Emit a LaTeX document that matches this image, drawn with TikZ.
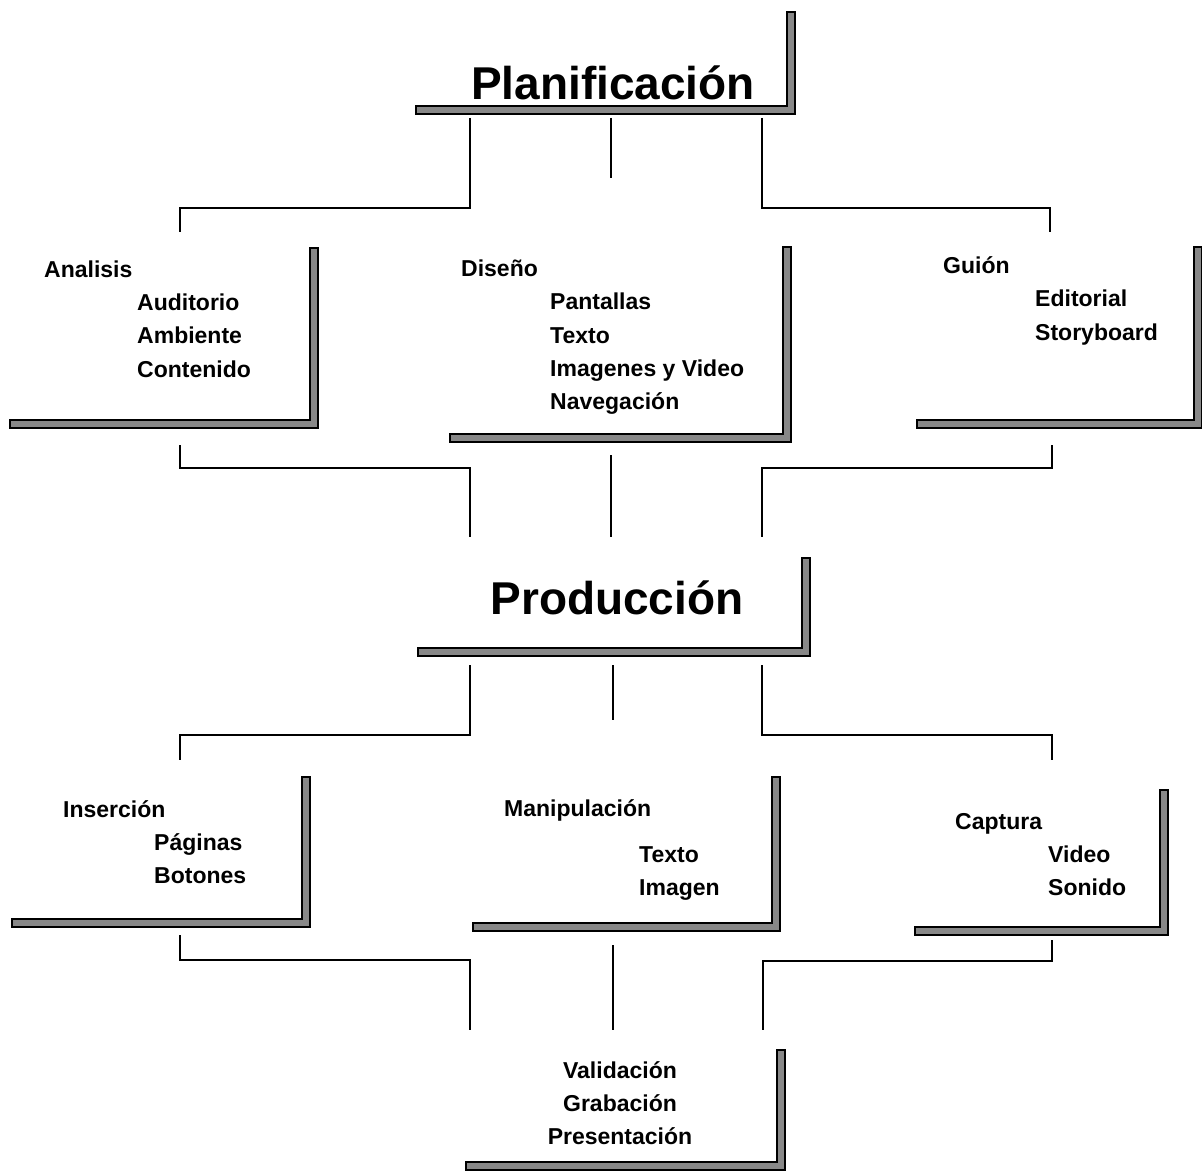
\documentclass[tikz,border=0pt]{standalone}
\usepackage{fontspec}
\setmainfont{Liberation Sans}
\definecolor{barfill}{HTML}{888888}

% L-shaped shaded bar under and right of a block: left, right, top, bottom
\newcommand{\cornerbar}[4]{%
  \filldraw[bar] (#1,#4-8) -- (#2-8,#4-8) -- (#2-8,#3) -- (#2,#3)
    -- (#2,#4) -- (#1,#4) -- cycle;}

\begin{document}
\begin{tikzpicture}[
    x=1pt, y=-1pt,
    title/.style = {anchor=base, inner sep=0pt,
                    font=\fontsize{46}{50}\selectfont\bfseries},
    head/.style  = {anchor=base west, inner sep=0pt,
                    font=\fontsize{23}{27}\selectfont\bfseries},
    item/.style  = {head},
    last/.style  = {anchor=base, inner sep=0pt,
                    font=\fontsize{23}{27}\selectfont\bfseries},
    bar/.style   = {fill=barfill, draw=black, line width=1.2pt},
    link/.style  = {draw=black, line width=1.6pt}
  ]
  \useasboundingbox (0,0) rectangle (1202,1174);

  %% Phase titles
  \node[title] (plan) at (613,100) {Planificación};
  \cornerbar{416}{795}{12}{114}
  \node[title] (prod) at (617,614) {Producción};
  \cornerbar{418}{810}{558}{656}

  %% Planning blocks
  \node[head] (an) at (44,278) {Analisis};
  \foreach \t [count=\i] in {Auditorio,Ambiente,Contenido}
    \node[item] (an\i) at (137,278+33*\i) {\t};
  \cornerbar{10}{318}{248}{428}

  \node[head] (di) at (461,277) {Diseño};
  \foreach \t [count=\i] in {Pantallas,Texto,Imagenes y Video,Navegación}
    \node[item] (di\i) at (550,277+33*\i) {\t};
  \cornerbar{450}{791}{247}{442}

  \node[head] (gu) at (943,274) {Guión};
  \foreach \t [count=\i] in {Editorial,Storyboard}
    \node[item] (gu\i) at (1035,274+33*\i) {\t};
  \cornerbar{917}{1202}{247}{428}

  %% Production blocks
  \node[head] (in) at (63,817) {Inserción};
  \foreach \t [count=\i] in {Páginas,Botones}
    \node[item] (in\i) at (154,817+33*\i) {\t};
  \cornerbar{12}{310}{777}{927}

  \node[head] (ma) at (504,816) {Manipulación};
  \foreach \t [count=\i] in {Texto,Imagen}
    \node[item] (ma\i) at (639,829+33*\i) {\t};
  \cornerbar{473}{780}{777}{931}

  \node[head] (ca) at (955,829) {Captura};
  \foreach \t [count=\i] in {Video,Sonido}
    \node[item] (ca\i) at (1048,829+33*\i) {\t};
  \cornerbar{915}{1168}{790}{935}

  %% Closing block
  \node[last] (va) at (620,1078) {Validación};
  \node[last] (gr) at (620,1111) {Grabación};
  \node[last] (pr) at (620,1144) {Presentación};
  \cornerbar{466}{785}{1050}{1170}

  %% Connector ends and elbows
  \coordinate (plL) at (470,118);  \coordinate (plM) at (611,118);
  \coordinate (plR) at (762,118);
  \coordinate (anT) at (180,232);  \coordinate (diT) at (611,178);
  \coordinate (guT) at (1050,232);
  \coordinate (anB) at (180,445);  \coordinate (diB) at (611,455);
  \coordinate (guB) at (1052,445);
  \coordinate (prL) at (470,537);  \coordinate (prM) at (611,537);
  \coordinate (prR) at (762,537);
  \coordinate (pdL) at (470,665);  \coordinate (pdM) at (613,665);
  \coordinate (pdR) at (762,665);
  \coordinate (inT) at (180,760);  \coordinate (maT) at (613,720);
  \coordinate (caT) at (1052,760);
  \coordinate (inB) at (180,935);  \coordinate (maB) at (613,945);
  \coordinate (caB) at (1052,940);
  \coordinate (vaL) at (470,1030); \coordinate (vaM) at (613,1030);
  \coordinate (vaR) at (763,1030);

  %% Connectors
  \draw[link] (plL) |- (anT |- 0,208) -- (anT);
  \draw[link] (plM) -- (diT);
  \draw[link] (plR) |- (guT |- 0,208) -- (guT);

  \draw[link] (anB) |- (prL |- 0,468) -- (prL);
  \draw[link] (diB) -- (prM);
  \draw[link] (guB) |- (prR |- 0,468) -- (prR);

  \draw[link] (pdL) |- (inT |- 0,735) -- (inT);
  \draw[link] (pdM) -- (maT);
  \draw[link] (pdR) |- (caT |- 0,735) -- (caT);

  \draw[link] (inB) |- (vaL |- 0,960) -- (vaL);
  \draw[link] (maB) -- (vaM);
  \draw[link] (caB) |- (vaR |- 0,961) -- (vaR);
\end{tikzpicture}
\end{document}
